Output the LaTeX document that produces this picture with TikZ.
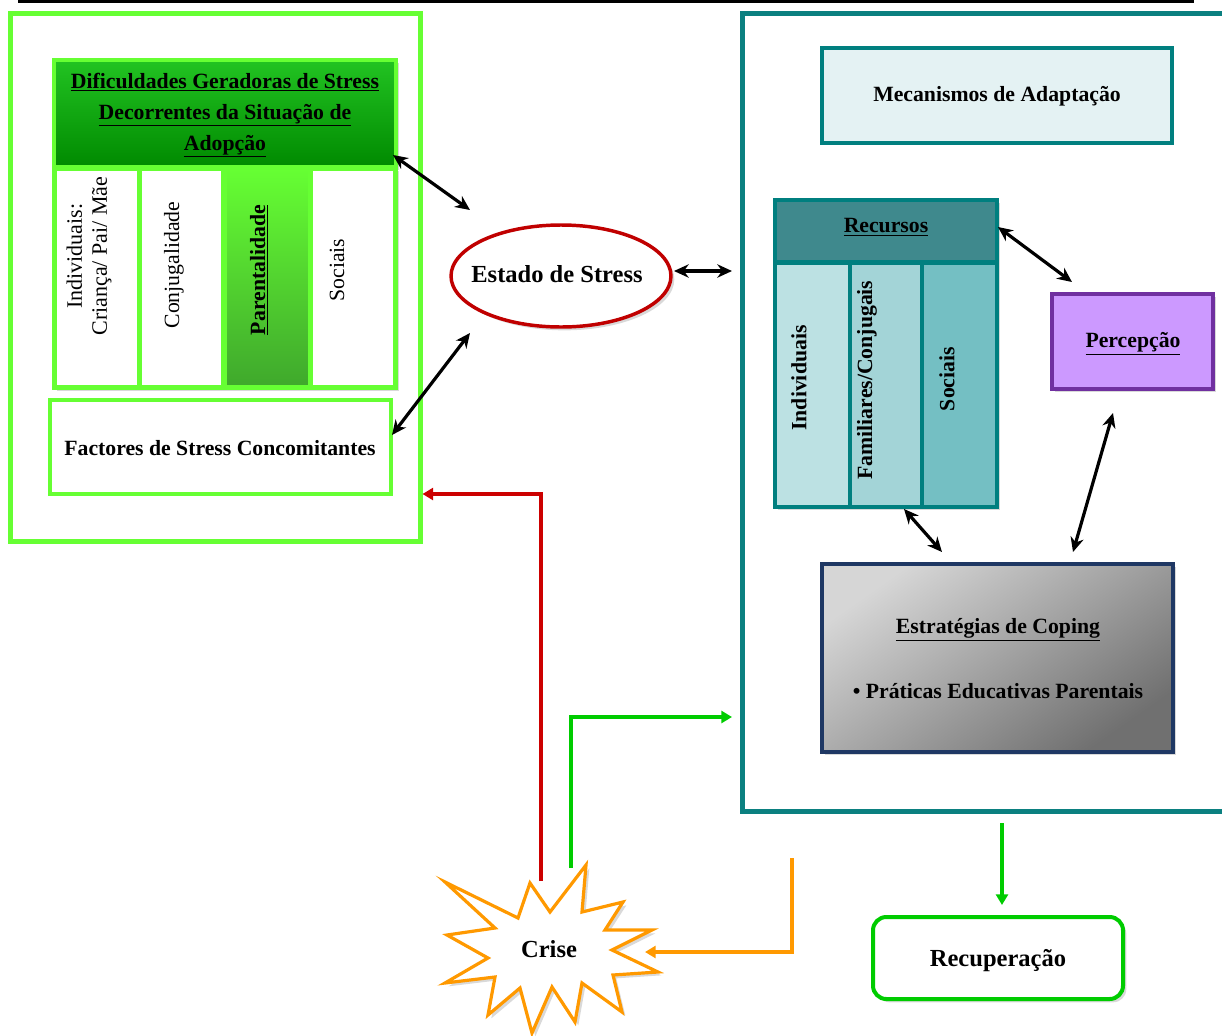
\documentclass[tikz,border=0pt]{standalone}
\usepackage{fontspec}
\setmainfont{Liberation Serif}
\usetikzlibrary{arrows.meta,shadows,fit,calc,shapes.geometric}
\definecolor{limeG}{HTML}{66FF33}
\definecolor{hdrTop}{HTML}{22C322}
\definecolor{hdrBot}{HTML}{008A00}
\definecolor{parTop}{HTML}{66FF33}
\definecolor{parBot}{HTML}{3FA82C}
\definecolor{tealF}{HTML}{0B8080}
\definecolor{tealB}{HTML}{007F7F}
\definecolor{recHdr}{HTML}{3F898D}
\definecolor{recA}{HTML}{BCE1E3}
\definecolor{recB}{HTML}{A3D4D7}
\definecolor{recC}{HTML}{74BFC3}
\definecolor{mecFill}{HTML}{E4F2F3}
\definecolor{percFill}{HTML}{CC99FF}
\definecolor{percLine}{HTML}{7030A0}
\definecolor{copLine}{HTML}{1F3864}
\definecolor{copLight}{HTML}{D6D6D6}
\definecolor{copDark}{HTML}{707070}
\definecolor{redL}{HTML}{CC0000}
\definecolor{ellL}{HTML}{C00000}
\definecolor{grnL}{HTML}{00CC00}
\definecolor{orL}{HTML}{FF9900}
\newcommand\mytxt{\fontsize{16.3}{20}\selectfont}
\newcommand\mybig{\fontsize{18.4}{22}\selectfont\bfseries}
\begin{document}
\begin{tikzpicture}[x=0.75pt,y=-0.75pt,
  boxfit/.style={inner sep=0pt},
  shad/.style={drop shadow={opacity=0.3,shadow xshift=2.5pt,shadow yshift=-2.5pt}},
  frameL/.style={draw=limeG, line width=3.75pt},
  frameR/.style={draw=tealF, line width=3.75pt},
  gbox/.style={boxfit, draw=limeG, line width=2.6pt, fill=white},
  tbox/.style={boxfit, draw=tealB, line width=2.6pt},
  txt/.style={font=\mytxt, align=center, inner sep=0pt},
  btxt/.style={font=\mytxt\bfseries, align=center, inner sep=0pt},
  bigtxt/.style={font=\mybig, align=center, inner sep=0pt},
  dbl/.style={{Stealth[length=11pt,width=10pt]}-{Stealth[length=11pt,width=10pt]}, line width=2.4pt, black},
  colarr/.style={-{Triangle[length=8pt,width=9pt]}, line width=2.5pt},
]
\useasboundingbox (0,0) rectangle (1222,1036);
\clip (0,0) rectangle (1222,1036);

% top rule
\draw[line width=1.6pt] (18,1.5) -- (1194,1.5);

% frames
\node[boxfit, frameL, fit={(10,13) (420,541)}] (lframe) {};
\node[boxfit, frameR, fit={(742,13) (1250,811)}] (rframe) {};

% left block
\node[gbox, shad, top color=hdrTop, bottom color=hdrBot, draw=limeG, fit={(54,60) (396,167)}] (hdr) {};
\node[btxt, font=\fontsize{16.3}{23.25}\selectfont\bfseries] (hdrt) at (225,115)
  {\underline{Dificuldades Geradoras de Stress}\\\underline{Decorrentes da Situação de}\\\underline{Adopção}};
\node[gbox, shad, fit={(54,168) (396,388)}] (cols) {};
\node[gbox, fit={(55,169) (139,387)}] (c1) {};
\node[gbox, fit={(140,169) (223,387)}] (c2) {};
\node[gbox, top color=parTop, bottom color=parBot, fit={(225,169) (310,387)}] (c3) {};
\node[gbox, fit={(311,169) (395,387)}] (c4) {};
\node[txt, rotate=90, font=\fontsize{16.5}{18.75}\selectfont] (t1) at (89,256) {Individuais:\\Criança/ Pai/ Mãe};
\node[txt, rotate=90] (t2) at (174,265) {Conjugalidade};
\node[btxt, rotate=90] (t3) at (259,270) {\underline{Parentalidade}};
\node[txt, rotate=90] (t4) at (337,270) {Sociais};
\node[gbox, fit={(50,400) (391,494)}] (fac) {};
\node[btxt] (fact) at (220,448) {Factores de Stress Concomitantes};

% estado
\node[ellipse, draw=ellL, line width=2.6pt, fill=white, shad, minimum width=220*0.75pt, minimum height=102*0.75pt, inner sep=0pt] (est) at (561,276) {};
\node[bigtxt] (estt) at (557,274) {Estado de Stress};

% right block
\node[tbox, fill=mecFill, fit={(822,48) (1172,143)}] (mec) {};
\node[btxt] (mect) at (997,96) {Mecanismos de Adaptação};
\node[tbox, shad, fill=recHdr, fit={(775,200) (997,507)}] (recs) {};
\node[tbox, fill=recHdr, fit={(775,200) (997,262)}] (recsh) {};
\node[btxt] (recst) at (886,227) {\underline{Recursos}};
\node[tbox, fill=recA, fit={(775,263) (850,507)}] (r1) {};
\node[tbox, fill=recB, fit={(850,263) (922,507)}] (r2) {};
\node[tbox, fill=recC, fit={(922,263) (997,507)}] (r3) {};
\node[btxt, rotate=90] (rt1) at (799,378) {Individuais};
\node[btxt, rotate=90] (rt2) at (867,380) {Familiares/Conjugais};
\node[btxt, rotate=90] (rt3) at (947,379) {Sociais};
\node[boxfit, draw=percLine, line width=3pt, fill=percFill, shad, fit={(1052,294) (1213,389)}] (perc) {};
\node[btxt] (perct) at (1133,344) {\underline{Percepção}};
\node[boxfit, draw=copLine, line width=2.8pt, shad, shading=axis, top color=copLight, bottom color=copDark, shading angle=35, fit={(822,564) (1173,752)}] (cop) {};
\node[btxt] (copt1) at (998,630) {\underline{Estratégias de Coping}};
\node[btxt] (copt2) at (998,691) {• Práticas Educativas Parentais};
\node[boxfit, draw=grnL, line width=3pt, fill=white, rounded corners=10pt, shad, fit={(873,917) (1123,999)}] (rec) {};
\node[bigtxt] (rect) at (998,961) {Recuperação};

% crise star
\draw[draw=orL, line width=2.4pt, fill=white, shad]
  (445,882) -- (518,918) -- (530,883) -- (550,912) -- (586,865) -- (582,912) -- (623,902) -- (605,930) -- (652,930) -- (612,950) -- (658,972) -- (613,975) -- (622,1012) -- (582,983) -- (575,1022) -- (552,987) -- (532,1033) -- (520,988) -- (488,1015) -- (495,977) -- (445,983) -- (488,958) -- (447,935) -- (495,928) -- cycle;
\node[bigtxt] (crise) at (549,949) {Crise};

% connector end points
\coordinate (a1s) at (393,155);  \coordinate (a1e) at (470,210);
\coordinate (a2s) at (392,435);  \coordinate (a2e) at (470,333);
\coordinate (a3s) at (674,271);  \coordinate (a3e) at (732,271);
\coordinate (a4s) at (998,227);  \coordinate (a4e) at (1072,282);
\coordinate (a5s) at (1113,413); \coordinate (a5e) at (1073,552);
\coordinate (a6s) at (904,509);  \coordinate (a6e) at (942,552);
\coordinate (redS) at (541,881);
\coordinate (grnS) at (571,868);
\coordinate (grnE) at (732,717);
\coordinate (orS) at (792,858);
\coordinate (orE) at (645,952);
\coordinate (gdS) at (1002,823);
\coordinate (gdE) at (1002,905);

\draw[dbl] (a1s) -- (a1e);
\draw[dbl] (a2s) -- (a2e);
\draw[dbl] (a3s) -- (a3e);
\draw[dbl] (a4s) -- (a4e);
\draw[dbl] (a5s) -- (a5e);
\draw[dbl] (a6s) -- (a6e);

\draw[colarr, redL] (redS) |- (lframe.east |- 0,494);
\draw[colarr, grnL] (grnS) |- (grnE);
\draw[colarr, orL] (orS) |- (orE);
\draw[colarr, grnL] (gdS) -- (gdE);
\end{tikzpicture}
\end{document}
